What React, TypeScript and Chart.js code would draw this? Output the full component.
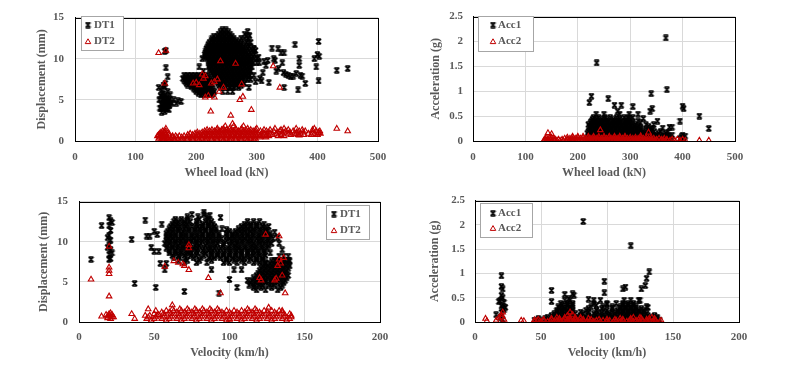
import React, { useEffect, useRef } from 'react';
import { Chart, registerables } from 'chart.js';

Chart.register(...registerables);

type Pt = [number, number];
type Row = { y: number; x: number[] };

// ---------- tick labels ----------
const loadTicks = [0, 100, 200, 300, 400, 500];
const velocityTicks = [0, 50, 100, 150, 200];
const dispTicks = [0, 5, 10, 15];
const accTicks = [0, 0.5, 1, 1.5, 2, 2.5];

// ---------- Panel 1: wheel load vs displacement ----------
const dt1LoadPoints: Pt[] = [
  [140, 4.0], [142, 4.5], [144, 5.0], [146, 4.2], [148, 3.6], [150, 4.8], [152, 5.3], [154, 4.4], [156, 5.0], [158, 4.7],
  [141, 5.5], [145, 5.8], [149, 5.6], [153, 6.0], [147, 3.9], [151, 4.0], [155, 3.8], [143, 3.5], [157, 5.6], [160, 4.6],
  [163, 5.0], [167, 4.6], [170, 4.9], [175, 4.8], [139, 5.0], [146, 5.1], [150, 4.3], [144, 4.3], [152, 4.6], [138, 6.5],
  [143, 6.2], [148, 6.6], [150, 8.9], [150, 11.0], [148, 10.9], [153, 7.8], [149, 7.0], [146, 6.8],
  [142, 4.0], [146, 4.6], [150, 5.2], [154, 4.9], [148, 4.2], [152, 3.9], [144, 5.4], [156, 4.3],
  [212, 8.5], [205, 9.0], [215, 10.3], [210, 10.0],
  [300, 9.5], [305, 7.6], [310, 8.3], [312, 9.7], [315, 9.2], [320, 7.1], [318, 9.8], [325, 11.3], [328, 10.0], [330, 9.8],
  [332, 8.5], [335, 11.2], [336, 8.8], [340, 10.7], [342, 9.5], [345, 10.7], [344, 8.3], [348, 8.1], [345, 6.5], [352, 8.0],
  [356, 7.8], [360, 7.9], [363, 11.7], [365, 8.2], [368, 6.2], [370, 10.0], [370, 9.2], [372, 8.0], [375, 7.9], [380, 7.0],
  [395, 10.0], [398, 9.0], [400, 10.5], [402, 12.1], [403, 10.3], [402, 7.3], [432, 8.6], [450, 8.8], [295, 8.0], [298, 7.2],
  [303, 10.2], [308, 7.3], [290, 12.0], [295, 11.2], [285, 13.3], [288, 12.8],
];
const dt1LoadRows: Row[] = [
  { y: 13.5, x: [243, 249] },
  { y: 13.25, x: [240, 246, 253] },
  { y: 13.0, x: [237, 243, 250, 256, 280] },
  { y: 12.75, x: [229, 235, 241, 247, 253, 259, 283] },
  { y: 12.5, x: [226, 232, 238, 244, 250, 256, 262, 274, 286] },
  { y: 12.25, x: [225, 231, 237, 243, 249, 255, 261, 267, 277] },
  { y: 12.0, x: [222, 228, 234, 240, 246, 252, 258, 264, 270, 283] },
  { y: 11.75, x: [220, 226, 232, 238, 244, 250, 256, 262, 268, 274, 285] },
  { y: 11.5, x: [219, 225, 231, 237, 243, 249, 255, 261, 267, 273, 279, 288] },
  { y: 11.25, x: [217, 223, 229, 235, 241, 247, 253, 259, 265, 271, 277, 285, 295] },
  { y: 11.0, x: [216, 222, 228, 234, 240, 246, 252, 258, 264, 270, 276, 282, 292, 298] },
  { y: 10.75, x: [215, 221, 227, 233, 239, 245, 251, 257, 263, 269, 275, 281, 289] },
  { y: 10.5, x: [214, 220, 226, 232, 238, 244, 250, 256, 262, 268, 274, 280, 286, 296] },
  { y: 10.25, x: [216, 222, 228, 234, 240, 246, 252, 258, 264, 270, 276, 282, 288, 294] },
  { y: 10.0, x: [218, 224, 230, 236, 242, 248, 254, 260, 266, 272, 278, 284, 290, 300] },
  { y: 9.75, x: [220, 226, 232, 238, 244, 250, 256, 262, 268, 274, 280, 286, 292] },
  { y: 9.5, x: [222, 228, 234, 240, 246, 252, 258, 264, 270, 276, 282, 288, 294, 304] },
  { y: 9.25, x: [223, 229, 235, 241, 247, 253, 259, 265, 271, 277, 283, 289] },
  { y: 9.0, x: [220, 226, 232, 238, 244, 250, 256, 262, 268, 274, 280, 286, 292] },
  { y: 8.75, x: [222, 228, 234, 240, 246, 252, 258, 264, 270, 276, 282, 288] },
  { y: 8.5, x: [224, 230, 236, 242, 248, 254, 260, 266, 272, 278, 284, 290] },
  { y: 8.25, x: [226, 232, 238, 244, 250, 256, 262, 268, 274, 280, 286] },
  { y: 8.0, x: [180, 186, 192, 198, 204, 210, 216, 228, 234, 240, 246, 252, 258, 264, 270, 276, 282, 288] },
  { y: 7.8, x: [183, 189, 195, 201, 207, 213, 219] },
  { y: 7.75, x: [230, 236, 242, 248, 254, 260, 266, 272, 278, 286] },
  { y: 7.6, x: [178, 184, 190, 196, 202, 208, 214, 220] },
  { y: 7.5, x: [232, 238, 244, 250, 256, 262, 268, 274, 284, 290] },
  { y: 7.4, x: [180, 186, 192, 198, 204, 210, 216, 222] },
  { y: 7.25, x: [234, 240, 246, 252, 258, 264, 270, 276] },
  { y: 7.2, x: [182, 188, 194, 200, 206, 212, 218, 224] },
  { y: 7.0, x: [184, 190, 196, 202, 208, 214, 220, 226, 236, 242, 248, 254, 260, 266, 272, 280] },
  { y: 6.8, x: [186, 192, 198, 204, 210, 216, 222] },
  { y: 6.75, x: [238, 245, 252, 259, 266, 274] },
  { y: 6.6, x: [192, 198, 204, 210, 216, 222] },
  { y: 6.5, x: [240, 248, 256, 262, 270, 287] },
  { y: 6.4, x: [196, 202, 208, 214, 220, 226] },
  { y: 6.2, x: [198, 204, 210, 216, 222, 228] },
  { y: 6.0, x: [200, 206, 212, 218, 224, 230, 244, 252, 260] },
  { y: 5.8, x: [204, 210, 216, 222, 228] },
  { y: 5.6, x: [208, 214, 220, 226] },
];
const dt2LoadPoints: Pt[] = [
  [138, 10.7], [150, 11.0], [148, 7.0], [240, 9.7], [265, 9.4], [210, 8.1], [215, 7.9], [200, 7.1], [195, 7.0], [225, 7.0],
  [230, 7.2], [235, 7.5], [220, 5.5], [230, 5.3], [215, 5.3], [238, 6.0], [245, 6.5], [272, 5.0], [277, 5.4], [224, 3.6],
  [257, 3.1], [291, 3.8], [275, 6.9], [327, 9.1], [338, 6.5], [260, 2.1], [450, 1.2], [402, 1.0], [400, 0.8], [370, 0.7],
  [365, 0.9], [212, 7.6], [205, 6.8],
];
const dt2LoadRows: Row[] = [
  { y: 0.15, x: [145, 155, 165, 175, 185, 195, 205, 215, 225, 235, 245, 255, 265, 275, 285, 295] },
  { y: 0.3, x: [138, 143, 148, 153, 158, 163, 170, 178, 186, 194, 202, 210, 218, 226, 234, 242, 250, 258, 266, 274, 282, 290, 298] },
  { y: 0.45, x: [140, 146, 152, 160, 168, 176, 184, 192, 200, 208, 216, 224, 232, 240, 248, 256, 264, 272, 280, 288, 296, 305, 315] },
  { y: 0.6, x: [136, 141, 146, 151, 156, 161, 166, 172, 180, 188, 196, 204, 212, 220, 228, 236, 244, 252, 260, 268, 276, 284, 292, 300, 310, 320, 335, 345] },
  { y: 0.75, x: [138, 143, 149, 186, 194, 202, 210, 218, 226, 234, 242, 250, 258, 266, 274, 282, 290, 298, 306, 316, 326, 340, 356, 368, 378, 390, 400] },
  { y: 0.9, x: [140, 145, 150, 155, 190, 198, 206, 214, 222, 230, 238, 246, 254, 262, 270, 278, 286, 294, 302, 312, 322, 332, 342, 352, 362, 372, 385, 395, 405] },
  { y: 1.05, x: [142, 148, 202, 210, 218, 226, 234, 242, 250, 258, 266, 274, 282, 290, 298, 310, 320, 335, 345, 355, 366, 376, 392, 402] },
  { y: 1.2, x: [145, 150, 214, 222, 230, 238, 246, 254, 262, 270, 278, 286, 294, 306, 316, 328, 338, 348, 360, 370, 380, 398, 404] },
  { y: 1.35, x: [218, 226, 234, 242, 250, 258, 266, 274, 282, 290, 298, 312, 322, 340, 352, 375, 392] },
  { y: 1.5, x: [150, 235, 245, 255, 265, 275, 285, 300, 330, 345, 365, 395, 432] },
  { y: 1.8, x: [248, 262, 278] },
];

// ---------- Panel 2: wheel load vs acceleration ----------
const acc1LoadPoints: Pt[] = [
  [222, 0.77], [226, 0.9], [236, 1.57], [258, 0.85], [270, 0.72], [283, 0.72], [276, 0.6], [305, 0.69], [315, 0.54], [325, 0.45],
  [338, 0.6], [340, 0.95], [342, 0.65], [368, 2.07], [370, 1.03], [375, 0.28], [380, 0.28], [395, 0.4], [400, 0.7], [402, 0.65],
  [400, 0.12], [405, 0.1], [432, 0.5], [450, 0.25], [372, 0.18], [352, 0.4],
];
const acc1LoadRows: Row[] = [
  { y: 0.05, x: [218, 226, 234, 242, 250, 258, 266, 274, 282, 290, 298, 306, 314, 322, 330, 338, 346, 354, 362, 370, 378, 395, 402] },
  { y: 0.085, x: [222, 230, 238, 246, 254, 262, 270, 278, 286, 294, 302, 310, 318, 326, 334, 342, 350, 358, 366, 374, 398] },
  { y: 0.12, x: [222, 230, 238, 246, 254, 262, 270, 278, 286, 294, 302, 310, 318, 326, 334, 342, 350, 365, 372, 380] },
  { y: 0.155, x: [218, 226, 234, 242, 250, 258, 266, 274, 282, 290, 298, 306, 314, 322, 330, 338, 354, 368] },
  { y: 0.19, x: [220, 228, 236, 244, 252, 260, 268, 276, 284, 292, 300, 308, 316, 324, 336, 346, 358] },
  { y: 0.225, x: [224, 232, 240, 248, 256, 264, 272, 280, 288, 296, 304, 312, 320, 330, 342] },
  { y: 0.26, x: [224, 232, 240, 248, 256, 264, 272, 280, 288, 296, 304, 312, 320, 340, 362] },
  { y: 0.295, x: [222, 228, 236, 244, 252, 260, 268, 276, 284, 292, 300, 308, 316, 335] },
  { y: 0.33, x: [220, 228, 236, 244, 252, 260, 268, 276, 284, 292, 300, 310, 330, 345] },
  { y: 0.365, x: [224, 232, 240, 248, 256, 264, 272, 280, 288, 296, 305, 320] },
  { y: 0.4, x: [226, 234, 242, 250, 258, 266, 274, 282, 290, 298, 315] },
  { y: 0.435, x: [228, 236, 246, 256, 268, 280, 292, 300] },
  { y: 0.47, x: [230, 240, 252, 262, 274, 288, 296, 305] },
  { y: 0.54, x: [235, 250, 280, 298] },
];
const acc2LoadPoints: Pt[] = [
  [143, 0.16], [150, 0.14], [243, 0.22], [335, 0.17], [320, 0.1],
];
const acc2LoadRows: Row[] = [
  { y: 0.01, x: [135, 140, 145, 150, 155, 160, 166, 172, 178, 184, 190, 196, 202, 208, 214, 220, 226, 232, 238, 244, 250, 256, 262, 268, 274, 280, 286, 292, 298, 304, 310, 316, 322, 328, 334, 340, 346, 352, 358, 364, 370, 376, 385, 395, 405, 432, 450] },
  { y: 0.03, x: [137, 143, 149, 157, 163, 170, 180, 190, 200, 210, 220, 230, 240, 250, 260, 270, 280, 290, 300, 310, 320, 330, 340, 350, 360, 370, 380, 390, 400] },
  { y: 0.05, x: [138, 146, 154, 175, 185, 195, 205, 215, 225, 235, 245, 255, 265, 275, 285, 295, 305, 315, 325, 335, 345, 355, 365] },
  { y: 0.07, x: [140, 150, 180, 190, 200, 210, 220, 230, 240, 250, 260, 270, 280, 290, 300, 310, 320, 330, 340] },
  { y: 0.09, x: [190, 200, 210, 220, 230, 240, 250, 260, 270, 280, 290] },
];

// ---------- Panel 3: velocity vs displacement ----------
const dt1VelPoints: Pt[] = [
  [20, 7.8], [20, 8.4], [21, 9.0], [20, 9.6], [21, 10.2], [20, 10.8], [21, 11.4], [20, 12.0], [21, 12.6], [20, 13.0],
  [19, 9.3], [22, 12.4], [19, 10.5], [22, 8.6], [21, 7.9],
  [8, 7.8], [15, 12.0], [35, 10.3], [37, 4.8], [44, 12.7], [45, 10.7], [47, 10.7], [50, 11.3], [51, 4.3], [52, 10.9],
  [50, 8.8], [53, 8.8], [48, 9.3], [54, 7.3], [55, 12.2], [57, 6.5], [58, 7.3],
  [83, 13.7], [87, 13.3], [94, 13.0], [98, 11.5], [93, 3.6], [88, 6.5], [100, 5.3], [105, 4.3], [108, 6.5], [103, 6.5],
  [112, 5.2], [130, 11.2], [132, 10.5], [133, 9.8], [135, 9.0], [124, 11.3], [70, 3.8],
];
const dt1VelRows: Row[] = [
  { y: 13.4, x: [75, 83] },
  { y: 13.1, x: [72, 79, 85] },
  { y: 12.8, x: [64, 68, 72, 80, 86] },
  { y: 12.5, x: [63, 66, 70, 74, 78, 84, 88, 112, 116, 120] },
  { y: 12.2, x: [62, 65, 69, 72, 78, 82, 86, 89, 110, 114, 118, 123] },
  { y: 11.9, x: [61, 64, 67, 71, 75, 79, 82, 86, 90, 108, 111, 114, 118, 122, 126] },
  { y: 11.6, x: [60, 63, 66, 70, 73, 77, 80, 84, 88, 91, 95, 106, 109, 112, 116, 120, 124] },
  { y: 11.3, x: [59, 62, 66, 69, 73, 77, 81, 84, 88, 91, 100, 104, 107, 110, 114, 117, 121, 125] },
  { y: 11.0, x: [58, 61, 64, 68, 71, 75, 79, 82, 86, 89, 93, 98, 102, 105, 108, 112, 115, 119, 123, 127] },
  { y: 10.7, x: [58, 61, 64, 68, 71, 75, 78, 82, 86, 89, 93, 98, 102, 105, 109, 112, 116, 120, 123, 127] },
  { y: 10.4, x: [59, 62, 66, 69, 73, 76, 80, 84, 87, 91, 95, 100, 103, 107, 110, 114, 118, 121, 125, 129] },
  { y: 10.1, x: [58, 61, 64, 68, 71, 75, 78, 82, 86, 89, 93, 98, 101, 105, 108, 112, 115, 119, 122, 126] },
  { y: 9.8, x: [57, 60, 64, 67, 71, 74, 78, 81, 85, 89, 92, 96, 102, 105, 109, 113, 116, 120, 124, 128] },
  { y: 9.5, x: [59, 62, 66, 69, 73, 77, 80, 84, 87, 91, 96, 100, 104, 107, 111, 115, 118, 122, 126] },
  { y: 9.2, x: [58, 62, 65, 69, 72, 76, 79, 83, 87, 90, 94, 99, 103, 106, 110, 114, 117, 121, 125] },
  { y: 8.9, x: [60, 64, 67, 71, 74, 78, 82, 86, 89, 93, 97, 101, 105, 108, 112, 116, 119, 123] },
  { y: 8.6, x: [60, 64, 68, 72, 75, 79, 84, 88, 92, 96, 100, 104, 108, 112, 115, 119, 123, 127] },
  { y: 8.3, x: [62, 66, 70, 74, 78, 83, 88, 92, 96, 100, 104, 108, 112, 116, 120, 124] },
  { y: 8.2, x: [133, 136, 139] },
  { y: 8.0, x: [63, 67, 71, 76, 81, 86, 90, 94, 98, 102, 106, 110, 114, 118, 122] },
  { y: 7.7, x: [66, 72, 80, 88, 98, 103, 108, 113, 118, 122, 130, 133, 136, 139] },
  { y: 7.6, x: [128, 131, 134, 137, 140] },
  { y: 7.4, x: [70, 78, 85, 96, 100, 105, 110, 116, 120, 124] },
  { y: 7.3, x: [124, 127, 130, 133, 136, 139] },
  { y: 7.0, x: [122, 125, 128, 131, 134, 137, 140] },
  { y: 6.7, x: [121, 124, 127, 130, 133, 136, 139] },
  { y: 6.4, x: [120, 123, 126, 129, 132, 135, 138] },
  { y: 6.1, x: [119, 122, 125, 128, 131, 134, 137] },
  { y: 5.8, x: [118, 121, 124, 127, 130, 133, 136, 139] },
  { y: 5.5, x: [116, 119, 122, 125, 128, 132, 135, 138] },
  { y: 5.2, x: [115, 118, 121, 124, 127, 130, 134, 137] },
  { y: 4.9, x: [114, 117, 120, 124, 128, 132, 136] },
  { y: 4.6, x: [113, 116, 119, 122, 126, 130, 135] },
  { y: 4.3, x: [116, 121, 128, 134] },
  { y: 4.0, x: [118, 124, 132] },
];
const dt2VelPoints: Pt[] = [
  [19, 0.5], [20, 0.8], [21, 1.1], [22, 0.6], [18, 0.9], [20, 3.2], [20, 6.0], [20, 6.4], [20, 6.8], [20, 9.4], [21, 0.4],
  [19, 0.7], [21, 0.7], [20, 1.0], [22, 0.9],
  [8, 5.3], [15, 0.7], [23, 0.6], [35, 1.0], [37, 0.4], [44, 0.8], [46, 1.6], [51, 1.4], [53, 0.9], [62, 2.1], [57, 6.9],
  [63, 7.6], [66, 7.4], [69, 7.2], [70, 7.0], [73, 6.5], [73, 9.2], [73, 9.6], [86, 5.5], [94, 3.6], [100, 0.3], [124, 10.9],
  [120, 5.5], [121, 5.2], [126, 1.8], [130, 5.2], [131, 5.4], [132, 7.0], [133, 10.7], [133, 7.8], [135, 5.8], [136, 8.0],
  [135, 1.4], [137, 3.6], [134, 7.3],
];
const dt2VelRows: Row[] = [
  { y: 0.2, x: [48, 58, 68, 78, 88, 98, 108, 118, 128, 138] },
  { y: 0.4, x: [45, 50, 55, 60, 65, 70, 75, 80, 85, 90, 95, 100, 105, 110, 115, 120, 125, 130, 135, 140] },
  { y: 0.6, x: [46, 51, 56, 61, 66, 71, 76, 81, 86, 91, 96, 101, 106, 111, 116, 121, 126, 131, 136, 141] },
  { y: 0.8, x: [47, 52, 57, 62, 67, 72, 77, 82, 87, 92, 97, 102, 107, 112, 117, 122, 127, 132, 137, 141] },
  { y: 1.0, x: [50, 56, 61, 66, 71, 76, 81, 86, 91, 96, 101, 106, 111, 116, 121, 126, 131, 136, 140] },
  { y: 1.2, x: [55, 60, 65, 70, 75, 80, 85, 90, 95, 100, 105, 110, 115, 120, 125, 130, 135] },
  { y: 1.4, x: [58, 63, 68, 73, 78, 83, 88, 93, 98, 103, 108, 113, 118, 123, 128, 133] },
  { y: 1.6, x: [62, 67, 72, 77, 82, 87, 92, 112, 117] },
];

// ---------- Panel 4: velocity vs acceleration ----------
const acc1VelPoints: Pt[] = [
  [20, 0.95], [20, 0.73], [21, 0.68], [20, 0.55], [21, 0.5], [19, 0.44], [22, 0.4], [20, 0.33], [21, 0.28], [22, 0.25],
  [20, 0.2], [16, 0.15], [19, 0.1], [21, 0.05], [23, 0.3], [18, 0.42],
  [58, 0.65], [58, 0.42], [68, 0.57], [74, 0.58], [75, 0.55], [71, 0.48], [86, 0.47], [90, 0.45], [98, 0.6], [98, 0.84],
  [82, 2.07], [118, 1.57], [112, 0.68], [114, 0.72], [126, 0.68], [129, 0.75], [130, 0.9], [132, 1.03], [125, 0.45], [131, 0.3],
  [100, 0.36], [107, 0.38],
];
const acc1VelRows: Row[] = [
  { y: 0.04, x: [45, 50, 55, 60, 65, 70, 75, 80, 85, 90, 95, 100, 105, 110, 115, 120, 125, 130, 135, 140] },
  { y: 0.07, x: [48, 53, 58, 63, 68, 73, 78, 83, 88, 93, 98, 103, 108, 113, 118, 123, 128, 133, 138] },
  { y: 0.1, x: [55, 61, 66, 71, 77, 83, 88, 93, 98, 104, 109, 114, 119, 124, 129, 134, 138] },
  { y: 0.135, x: [58, 63, 68, 74, 80, 86, 91, 96, 101, 106, 111, 116, 121, 126, 131, 136] },
  { y: 0.17, x: [60, 64, 68, 72, 76, 82, 90, 96, 102, 106, 110, 114, 118, 122, 126, 130] },
  { y: 0.205, x: [62, 66, 70, 74, 80, 86, 93, 99, 104, 108, 112, 116, 120, 124, 128] },
  { y: 0.24, x: [62, 66, 70, 74, 84, 92, 100, 108, 112, 116, 120, 124, 128] },
  { y: 0.275, x: [64, 68, 72, 86, 96, 104, 110, 114, 118, 122, 126] },
  { y: 0.31, x: [63, 67, 72, 88, 97, 104, 110, 114, 118, 122, 130] },
  { y: 0.345, x: [66, 70, 74, 92, 112, 116, 120] },
  { y: 0.38, x: [65, 70, 74, 90, 100, 112, 116, 120] },
  { y: 0.45, x: [68, 72, 95, 113, 118, 124] },
];
const acc2VelPoints: Pt[] = [
  [8, 0.07], [9, 0.02], [16, 0.03], [18, 0.08], [20, 0.15], [20, 0.1], [21, 0.2], [22, 0.05], [35, 0.03], [37, 0.02],
  [45, 0.04], [48, 0.05], [72, 0.2], [74, 0.15], [70, 0.13],
];
const acc2VelRows: Row[] = [
  { y: 0.01, x: [45, 50, 55, 60, 65, 70, 75, 80, 85, 90, 95, 100, 105, 110, 115, 120, 125, 130, 135, 140] },
  { y: 0.03, x: [47, 52, 57, 62, 67, 72, 77, 82, 87, 92, 97, 102, 107, 112, 117, 122, 127, 132, 137, 141] },
  { y: 0.05, x: [52, 58, 64, 70, 76, 82, 88, 94, 100, 106, 112, 118, 124, 130, 136] },
  { y: 0.07, x: [58, 64, 68, 72, 76, 80, 86, 110, 118, 126, 132, 136] },
  { y: 0.09, x: [62, 68, 72, 76, 80, 120, 125, 134] },
];

// ---------- helpers ----------
const RED = '#C00000';
const TEXT = '#595959';
const FONT_FAMILY = '"Liberation Serif", "Times New Roman", serif';

function toData(points: Pt[], rows: Row[]) {
  const a = rows.flatMap((r) => r.x.map((x) => ({ x, y: r.y })));
  const b = points.map(([x, y]) => ({ x, y }));
  return [...a, ...b];
}

let starCache: HTMLCanvasElement | null = null;
function starMarker(): HTMLCanvasElement {
  if (starCache) return starCache;
  const c = document.createElement('canvas');
  c.width = 7;
  c.height = 7;
  const g = c.getContext('2d')!;
  g.strokeStyle = '#000';
  g.lineWidth = 1.5;
  g.beginPath();
  g.moveTo(1, 1);
  g.lineTo(6, 6);
  g.moveTo(6, 1);
  g.lineTo(1, 6);
  g.moveTo(1.2, 0.9);
  g.lineTo(5.8, 0.9);
  g.moveTo(1.2, 6.1);
  g.lineTo(5.8, 6.1);
  g.stroke();
  starCache = c;
  return c;
}

type Panel = {
  left: number;
  top: number;
  width: number;
  height: number;
  blackLabel: string;
  redLabel: string;
  black: { x: number; y: number }[];
  red: { x: number; y: number }[];
  xTicks: number[];
  yTicks: number[];
  xTitle: string;
  yTitle: string;
  area: { top: number; right: number; yWidth: number; xHeight: number };
  yTickPad: number;
  xTickPad: number;
  yTitlePad: number;
  xTitlePad: number;
  legend: { x: number; y: number; w: number; h: number; markerX: number; textX: number; rows: number[] };
};

const panels: Panel[] = [
  {
    left: 0, top: 0, width: 400, height: 184,
    blackLabel: 'DT1', redLabel: 'DT2',
    black: toData(dt1LoadPoints, dt1LoadRows), red: toData(dt2LoadPoints, dt2LoadRows),
    xTicks: loadTicks, yTicks: dispTicks,
    xTitle: 'Wheel load (kN)', yTitle: 'Displacement (mm)',
    area: { top: 13, right: 22, yWidth: 75, xHeight: 43 },
    yTickPad: 11, xTickPad: 9.4, yTitlePad: 34.8, xTitlePad: 3.8,
    legend: { x: 81, y: 16, w: 42, h: 34, markerX: 88, textX: 94, rows: [25, 41.5] },
  },
  {
    left: 400, top: 0, width: 400, height: 184,
    blackLabel: 'Acc1', redLabel: 'Acc2',
    black: toData(acc1LoadPoints, acc1LoadRows), red: toData(acc2LoadPoints, acc2LoadRows),
    xTicks: loadTicks, yTicks: accTicks,
    xTitle: 'Wheel load (kN)', yTitle: 'Acceleration (g)',
    area: { top: 13, right: 65, yWidth: 73, xHeight: 43 },
    yTickPad: 10, xTickPad: 9.1, yTitlePad: 28.3, xTitlePad: 4.1,
    legend: { x: 78, y: 16, w: 55, h: 35, markerX: 93, textX: 98, rows: [25, 41.5] },
  },
  {
    left: 0, top: 184, width: 400, height: 185,
    blackLabel: 'DT1', redLabel: 'DT2',
    black: toData(dt1VelPoints, dt1VelRows), red: toData(dt2VelPoints, dt2VelRows),
    xTicks: velocityTicks, yTicks: dispTicks,
    xTitle: 'Velocity (km/h)', yTitle: 'Displacement (mm)',
    area: { top: 14, right: 20, yWidth: 79, xHeight: 47 },
    yTickPad: 11, xTickPad: 8.1, yTitlePad: 36.8, xTitlePad: 9.1,
    legend: { x: 326, y: 21, w: 43, h: 34, markerX: 334, textX: 340, rows: [30, 46.5] },
  },
  {
    left: 400, top: 184, width: 400, height: 185,
    blackLabel: 'Acc1', redLabel: 'Acc2',
    black: toData(acc1VelPoints, acc1VelRows), red: toData(acc2VelPoints, acc2VelRows),
    xTicks: velocityTicks, yTicks: accTicks,
    xTitle: 'Velocity (km/h)', yTitle: 'Acceleration (g)',
    area: { top: 14, right: 61, yWidth: 75, xHeight: 47 },
    yTickPad: 10, xTickPad: 8.1, yTitlePad: 27.3, xTitlePad: 8.8,
    legend: { x: 80, y: 19, w: 52, h: 34, markerX: 93, textX: 98, rows: [29.3, 44.3] },
  },
];

function drawTriangle(ctx: CanvasRenderingContext2D, x: number, y: number, r: number) {
  ctx.beginPath();
  ctx.moveTo(x, y - r);
  ctx.lineTo(x + r * 0.866, y + r * 0.5);
  ctx.lineTo(x - r * 0.866, y + r * 0.5);
  ctx.closePath();
  ctx.stroke();
}

function makeChart(canvas: HTMLCanvasElement, p: Panel) {
  const framePlugin = {
    id: 'frame',
    afterDraw(chart: any) {
      const { ctx, chartArea } = chart;
      const l = Math.round(chartArea.left) + 0.5;
      const t = Math.round(chartArea.top) + 0.5;
      const r = Math.round(chartArea.right) + 0.5;
      const b = Math.round(chartArea.bottom) + 0.5;
      ctx.save();
      ctx.strokeStyle = '#000';
      ctx.lineWidth = 1;
      ctx.strokeRect(l, t, r - l, b - t);
      const lg = p.legend;
      ctx.fillStyle = '#fff';
      ctx.fillRect(lg.x, lg.y, lg.w, lg.h);
      ctx.strokeStyle = '#a6a6a6';
      ctx.strokeRect(lg.x + 0.5, lg.y + 0.5, lg.w, lg.h);
      const star = starMarker();
      ctx.drawImage(star, lg.markerX - 3.5, lg.rows[0] - 3.5);
      ctx.strokeStyle = RED;
      ctx.lineWidth = 1;
      drawTriangle(ctx, lg.markerX, lg.rows[1] + 0.5, 3.2);
      ctx.fillStyle = TEXT;
      ctx.font = `bold 11px ${FONT_FAMILY}`;
      ctx.textBaseline = 'middle';
      ctx.textAlign = 'left';
      ctx.fillText(p.blackLabel, lg.textX, lg.rows[0]);
      ctx.fillText(p.redLabel, lg.textX, lg.rows[1]);
      ctx.restore();
    },
  };

  const tickFont = { family: FONT_FAMILY, size: 11, weight: 'bold' as const };
  const titleFont = { family: FONT_FAMILY, size: 12, weight: 'bold' as const };
  const fmt = (v: any) => String(v);

  return new Chart(canvas, {
    type: 'scatter',
    data: {
      datasets: [
        {
          label: p.redLabel,
          data: p.red,
          pointStyle: 'triangle',
          pointRadius: 3.2,
          borderWidth: 1.1,
          borderColor: RED,
          backgroundColor: 'rgba(0,0,0,0)',
        },
        {
          label: p.blackLabel,
          data: p.black,
          pointStyle: starMarker(),
          pointRadius: 3,
          borderColor: '#000',
          backgroundColor: '#000',
        },
      ],
    },
    options: {
      animation: false,
      responsive: false,
      events: [],
      layout: { padding: { left: 0, top: p.area.top, right: p.area.right, bottom: 0 } },
      plugins: { legend: { display: false }, tooltip: { enabled: false } },
      scales: {
        x: {
          type: 'linear',
          min: p.xTicks[0],
          max: p.xTicks[p.xTicks.length - 1],
          afterBuildTicks: (s: any) => {
            s.ticks = p.xTicks.map((v) => ({ value: v }));
          },
          afterFit: (s: any) => {
            s.height = p.area.xHeight;
          },
          ticks: { color: TEXT, font: tickFont, padding: p.xTickPad, maxRotation: 0, callback: fmt },
          grid: { color: '#d9d9d9', drawTicks: false },
          border: { color: '#000', width: 1 },
          title: {
            display: true,
            text: p.xTitle,
            color: TEXT,
            font: titleFont,
            padding: { top: 0, bottom: p.xTitlePad },
          },
        },
        y: {
          type: 'linear',
          min: p.yTicks[0],
          max: p.yTicks[p.yTicks.length - 1],
          afterBuildTicks: (s: any) => {
            s.ticks = p.yTicks.map((v) => ({ value: v }));
          },
          afterFit: (s: any) => {
            s.width = p.area.yWidth;
          },
          ticks: { color: TEXT, font: tickFont, padding: p.yTickPad, callback: fmt },
          grid: { color: '#d9d9d9', drawTicks: false },
          border: { color: '#000', width: 1 },
          title: {
            display: true,
            text: p.yTitle,
            color: TEXT,
            font: titleFont,
            padding: { top: p.yTitlePad, bottom: 0 },
          },
        },
      },
    } as any,
    plugins: [framePlugin],
  });
}

function ChartPanel({ p }: { p: Panel }) {
  const ref = useRef<HTMLCanvasElement>(null);
  useEffect(() => {
    if (!ref.current) return;
    const chart = makeChart(ref.current, p);
    return () => chart.destroy();
  }, [p]);
  return (
    <canvas
      ref={ref}
      width={p.width}
      height={p.height}
      style={{ position: 'absolute', left: p.left, top: p.top, width: p.width, height: p.height }}
    />
  );
}

export default function App() {
  return (
    <div style={{ position: 'absolute', left: 0, top: 0, width: 800, height: 369, background: '#fff', overflow: 'hidden' }}>
      {panels.map((p, i) => (
        <ChartPanel key={i} p={p} />
      ))}
    </div>
  );
}
